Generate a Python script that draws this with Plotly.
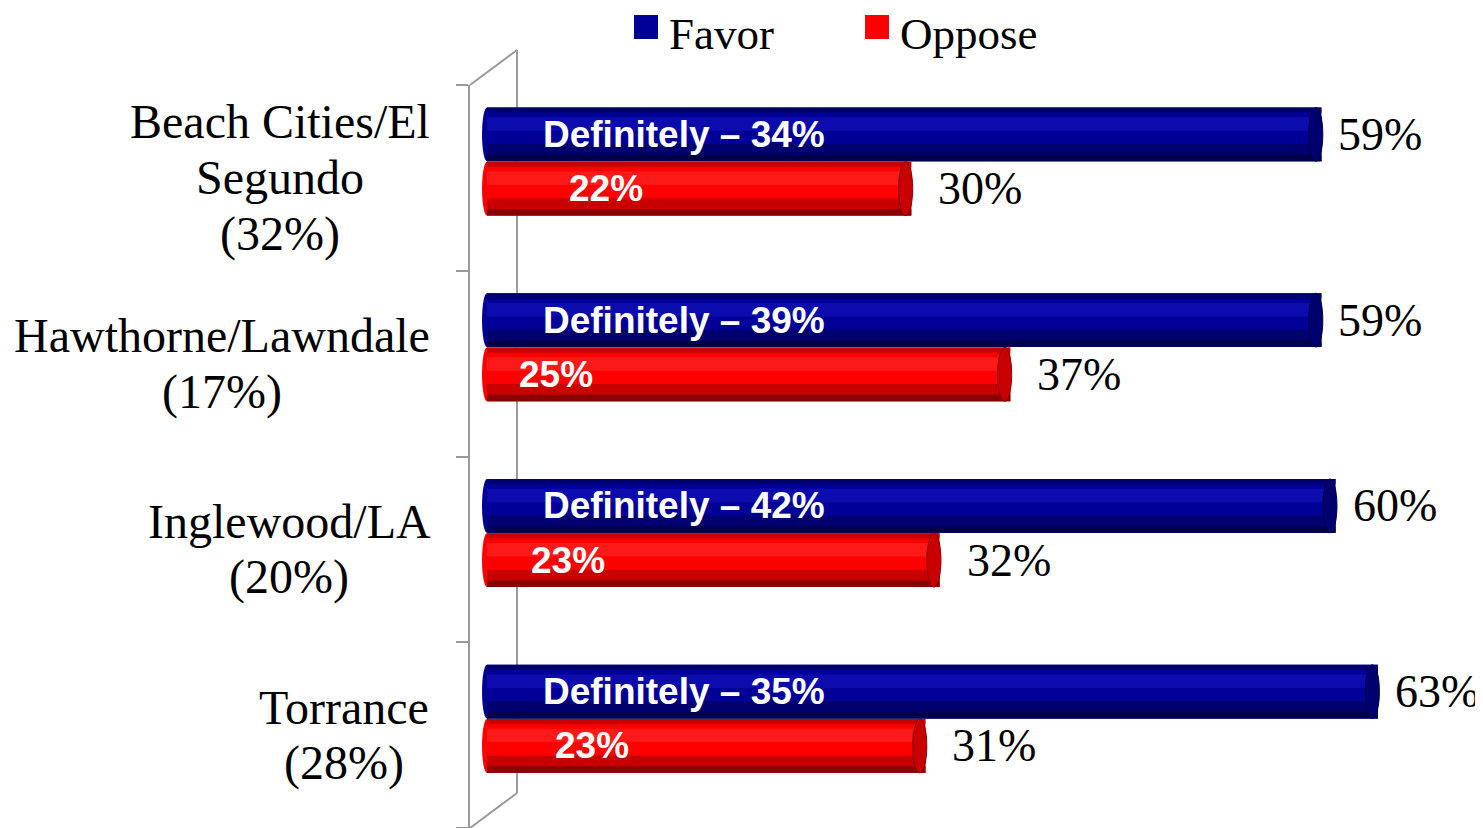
import plotly.graph_objects as go

# ---------------- data ----------------
categories = ["Beach Cities/El Segundo", "Hawthorne/Lawndale", "Inglewood/LA", "Torrance"]
cat_label_lines = [["Beach Cities/El", "Segundo", "(32%)"],
                   ["Hawthorne/Lawndale", "(17%)"],
                   ["Inglewood/LA", "(20%)"],
                   ["Torrance", "(28%)"]]
favor = [59, 59, 60, 63]
oppose = [30, 37, 32, 31]
favor_definitely = [34, 39, 42, 35]
oppose_strongly = [22, 25, 23, 23]

# ---------------- layout constants ----------------
# page body has an 8px margin, so the figure is drawn 8px smaller / shifted
OFFS = 8
W, H = 1483 - OFFS, 828 - OFFS
PLOT_L, PLOT_T, PLOT_B = 470, 85, 828          # plot area in window pixels
PW = 990
ML, MT, MB = PLOT_L - OFFS, PLOT_T - OFFS, 0
MR = W - ML - PW
PH = PLOT_B - PLOT_T
XMIN, XMAX = -1.2, 68.8

BLUE, BLUE_D, BLUE_DD, BLUE_L = "#000099", "#00006e", "#00004a", "#0c0cae"
RED, RED_D, RED_DD, RED_L = "#ff0000", "#c80000", "#8a0000", "#ff1a1a"
GRAY = "#9a9a9a"
SERIF = "Liberation Serif, Times New Roman, serif"
SANS = "Liberation Sans, Arial, sans-serif"

BW = 0.29            # bar thickness (category units)
FAV_OFF = -0.379     # favor bar top relative to category centre
OPP_OFF = -0.087     # oppose bar top relative to category centre
FAV_LABEL_X = 13.95  # centre of "Definitely" labels (x units)
OPP_LABEL_X = [8.4, 4.9, 5.7, 7.4]  # centres of inner oppose labels (x units)
LABEL_CX = [280, 222, 289, 344]     # centre of category label blocks (window px)
LINE_SP = 56


def px_x(p):
    return (p - PLOT_L) / PW


def px_y(p):
    return (PLOT_B - p) / PH


idx = list(range(len(categories)))

fig = go.Figure()


def add_cylinder(values, off, c, cl, cd, cdd, name):
    fig.add_trace(go.Bar(y=idx, x=values, orientation="h", offset=off, width=BW,
                         marker=dict(color=c, line=dict(width=0)), name=name,
                         showlegend=False, hoverinfo="x+name"))
    fig.add_trace(go.Bar(y=idx, x=values, orientation="h", offset=off + BW * 0.18, width=BW * 0.25,
                         marker=dict(color=cl, line=dict(width=0)), showlegend=False, hoverinfo="skip"))
    fig.add_trace(go.Bar(y=idx, x=values, orientation="h", offset=off, width=BW * 0.1,
                         marker=dict(color=cd, line=dict(width=0)), showlegend=False, hoverinfo="skip"))
    fig.add_trace(go.Bar(y=idx, x=values, orientation="h", offset=off + BW * 0.68, width=BW * 0.32,
                         marker=dict(color=cd, line=dict(width=0)), showlegend=False, hoverinfo="skip"))
    fig.add_trace(go.Bar(y=idx, x=values, orientation="h", offset=off + BW * 0.88, width=BW * 0.12,
                         marker=dict(color=cdd, line=dict(width=0)), showlegend=False, hoverinfo="skip"))
    for i, v in zip(idx, values):
        fig.add_shape(type="circle", xref="x", yref="y", x0=-0.35, x1=0.35,
                      y0=i + off, y1=i + off + BW, fillcolor=c, line=dict(width=0), layer="below")
        fig.add_shape(type="circle", xref="x", yref="y", x0=v - 0.9, x1=v + 0.1,
                      y0=i + off, y1=i + off + BW, fillcolor=cd,
                      line=dict(width=1, color=cdd))


add_cylinder(favor, FAV_OFF, BLUE, BLUE_L, BLUE_D, BLUE_DD, "Favor")
add_cylinder(oppose, OPP_OFF, RED, RED_L, RED_D, RED_DD, "Oppose")

annotations = []
for i in idx:
    lines = cat_label_lines[i]
    n = len(lines)
    for k, line in enumerate(lines):
        annotations.append(dict(xref="paper", yref="y", x=px_x(LABEL_CX[i]), y=i,
                                yshift=((n - 1) / 2 - k) * LINE_SP,
                                xanchor="center", yanchor="middle", showarrow=False,
                                text=line, font=dict(family=SERIF, size=48, color="black")))
    annotations.append(dict(xref="x", yref="y", x=favor[i], y=i + FAV_OFF + BW / 2,
                            xanchor="left", yanchor="middle", xshift=15, showarrow=False,
                            text=f"{favor[i]}%", font=dict(family=SERIF, size=46, color="black")))
    annotations.append(dict(xref="x", yref="y", x=oppose[i], y=i + OPP_OFF + BW / 2,
                            xanchor="left", yanchor="middle", xshift=25, showarrow=False,
                            text=f"{oppose[i]}%", font=dict(family=SERIF, size=46, color="black")))
    annotations.append(dict(xref="x", yref="y", x=FAV_LABEL_X, y=i + FAV_OFF + BW / 2,
                            xanchor="center", yanchor="middle", showarrow=False,
                            text=f"<b>Definitely \u2013 {favor_definitely[i]}%</b>",
                            font=dict(family=SANS, size=37, color="white")))
    annotations.append(dict(xref="x", yref="y", x=OPP_LABEL_X[i], y=i + OPP_OFF + BW / 2,
                            xanchor="center", yanchor="middle", showarrow=False,
                            text=f"<b>{oppose_strongly[i]}%</b>",
                            font=dict(family=SANS, size=37, color="white")))

# legend
for name, col, sq_x in [("Favor", BLUE, 634), ("Oppose", RED, 865)]:
    fig.add_shape(type="rect", xref="paper", yref="paper", x0=px_x(sq_x), x1=px_x(sq_x + 24),
                  y0=px_y(39), y1=px_y(15), fillcolor=col, line=dict(width=0))
    annotations.append(dict(xref="paper", yref="paper", x=px_x(sq_x + 34), y=px_y(34),
                            xanchor="left", yanchor="middle", showarrow=False, text=name,
                            borderpad=0,
                            font=dict(family=SERIF, size=45, color="black")))

# 3-D side wall
wall = dict(color=GRAY, width=2)
bx, by_top, by_bot = px_x(517), px_y(50), px_y(793)
fig.add_shape(type="line", xref="paper", yref="paper", x0=0, y0=1, x1=bx, y1=by_top, line=wall)
fig.add_shape(type="line", xref="paper", yref="paper", x0=bx, y0=by_top, x1=bx, y1=by_bot, line=wall,
              layer="below")
fig.add_shape(type="line", xref="paper", yref="paper", x0=0, y0=0, x1=bx, y1=by_bot, line=wall)

fig.update_layout(
    width=W, height=H,
    margin=dict(l=ML, r=MR, t=MT, b=MB, pad=0),
    paper_bgcolor="white", plot_bgcolor="white",
    barmode="overlay",
    showlegend=False,
    annotations=annotations,
    xaxis=dict(range=[XMIN, XMAX], showgrid=False, zeroline=False, showticklabels=False,
               showline=False, ticks=""),
    yaxis=dict(range=[len(categories) - 0.5, -0.5], showgrid=False, zeroline=False,
               showticklabels=False, showline=True, linecolor=GRAY, linewidth=2,
               tickmode="array", tickvals=[i - 0.5 for i in range(len(categories) + 1)],
               ticks="outside", ticklen=12, tickcolor=GRAY, tickwidth=2),
)

fig.write_html("out.html")
